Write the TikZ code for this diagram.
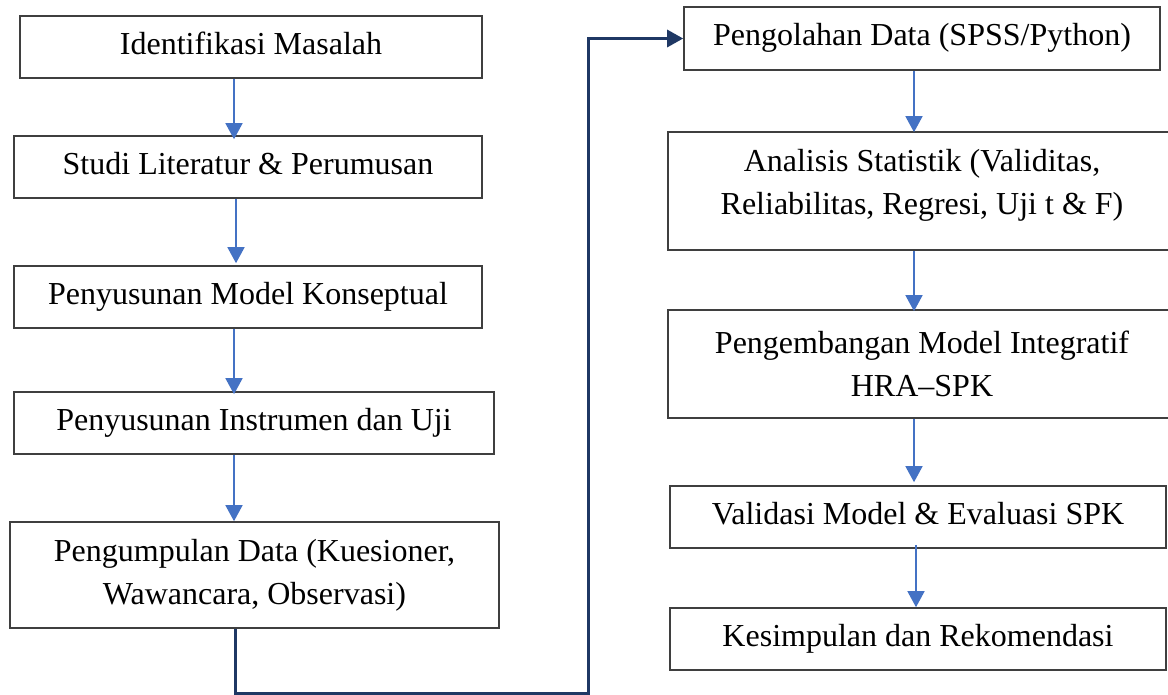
\documentclass[tikz,border=0pt]{standalone}
\usepackage{fontspec}
\setmainfont{Liberation Serif}
\usetikzlibrary{arrows.meta,calc}
\definecolor{boxline}{HTML}{3F3F3F}
\definecolor{flowblue}{HTML}{4472C4}
\definecolor{navyline}{HTML}{1F3864}
\begin{document}
\begin{tikzpicture}[x=1pt,y=-1pt,
  box/.style={draw=boxline,line width=1.6pt,inner sep=0pt,align=center,
    font=\fontsize{32}{43}\selectfont},
  onebox/.style={box,text height=22pt,text depth=7pt},
  boxtext/.style={inner sep=0pt,align=center,font=\fontsize{32}{43}\selectfont},
  flow/.style={draw=flowblue,line width=1.5pt,-{Triangle[width=17pt,length=16pt]}},
  link/.style={draw=navyline,line width=3pt,-{Triangle[width=17pt,length=16pt]}}]
\useasboundingbox (0,0) rectangle (1168,695);

% left column
\node[onebox,minimum width=462pt,minimum height=62pt] (b1) at (251,47) {Identifikasi Masalah};
\node[onebox,minimum width=468pt,minimum height=62pt] (b2) at (248,167) {Studi Literatur \& Perumusan};
\node[onebox,minimum width=468pt,minimum height=62pt] (b3) at (248,297) {Penyusunan Model Konseptual};
\node[onebox,minimum width=480pt,minimum height=62pt] (b4) at (254,423) {Penyusunan Instrumen dan Uji};
\node[box,minimum width=489pt,minimum height=106pt] (b5) at (254.5,575) {Pengumpulan Data (Kuesioner,\\Wawancara, Observasi)};

% right column
\node[onebox,minimum width=476pt,minimum height=63pt] (b6) at (922,38.5) {Pengolahan Data (SPSS/Python)};
\node[box,minimum width=508pt,minimum height=118pt] (b7) at (922,191) {};
\node[boxtext] (t7) at (922,185) {Analisis Statistik (Validitas,\\Reliabilitas, Regresi, Uji t \& F)};
\node[box,minimum width=508pt,minimum height=108pt] (b8) at (922,364) {Pengembangan Model Integratif\\HRA--SPK};
\node[onebox,minimum width=496pt,minimum height=62pt] (b9) at (918,517) {Validasi Model \& Evaluasi SPK};
\node[onebox,minimum width=496pt,minimum height=62pt] (b10) at (918,639) {Kesimpulan dan Rekomendasi};

% guide coordinates
\coordinate (xl) at (234,0);
\coordinate (xla) at (236,0);
\coordinate (xr) at (914,0);
\coordinate (xrb) at (916,0);
\coordinate (xn) at (235,0);

% blue flow arrows
\draw[flow] (b1.south -| xl) -- ($(b2.north -| xl)+(0,4)$);
\draw[flow] (b2.south -| xla) -- ($(b3.north -| xla)+(0,-2)$);
\draw[flow] (b3.south -| xl) -- ($(b4.north -| xl)+(0,3)$);
\draw[flow] (b4.south -| xl) -- (b5.north -| xl);

\draw[flow] (b6.south -| xr) -- ($(b7.north -| xr)+(0,1)$);
\draw[flow] (b7.south -| xr) -- ($(b8.north -| xr)+(0,2)$);
\draw[flow] (b8.south -| xr) -- ($(b9.north -| xr)+(0,-3)$);
\draw[flow] ($(b9.south -| xrb)+(0,-4)$) -- (b10.north -| xrb);

% navy connector
\coordinate (c1) at (235,693);
\coordinate (c2) at (588,693);
\draw[link] (b5.south -| xn) -- (c1) -- (c2) |- (b6.west);
\end{tikzpicture}
\end{document}
